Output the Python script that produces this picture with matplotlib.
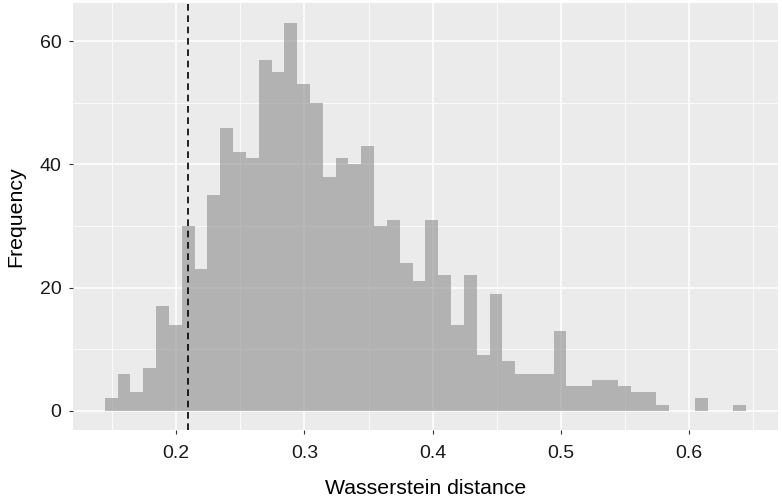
import matplotlib
matplotlib.use("Agg")
import matplotlib.pyplot as plt
from matplotlib.ticker import MultipleLocator
import numpy as np

plt.rcParams['font.family'] = ['Liberation Sans', 'DejaVu Sans']

# histogram: 50 bins of width 0.01
bin_start = 0.1443
bin_width = 0.01
counts = [2, 6, 3, 7, 17, 14, 30, 23, 35, 46,
          42, 41, 57, 55, 63, 53, 50, 38, 41, 40,
          43, 30, 31, 24, 21, 31, 22, 14, 22, 9,
          19, 8, 6, 6, 6, 13, 4, 4, 5, 5,
          4, 3, 3, 1, 0, 0, 2, 0, 0, 1]
observed = 0.209
x_ticks = [0.2, 0.3, 0.4, 0.5, 0.6]
y_ticks = [0, 20, 40, 60]

edges = bin_start + bin_width * np.arange(len(counts) + 1)

fig = plt.figure(figsize=(7.82, 4.99), dpi=100)
ax = fig.add_axes([0.093, 0.138, 0.902, 0.855])
ax.set_facecolor("#EBEBEB")
for s in ax.spines.values():
    s.set_visible(False)

ax.bar(edges[:-1], counts, width=bin_width, align="edge",
       color="#8C8C8C", alpha=0.6, linewidth=0, zorder=3)
ax.axvline(observed, color="black", linewidth=1.2, linestyle=(0, (4.0, 2.8)),
           zorder=4)

span = edges[-1] - edges[0]
ax.set_xlim(edges[0] - 0.05 * span, edges[-1] + 0.05 * span)
ymax = max(counts)
ax.set_ylim(-0.05 * ymax, 1.05 * ymax)

ax.set_xticks(x_ticks)
ax.set_xticklabels([str(v) for v in x_ticks])
ax.set_yticks(y_ticks)
ax.xaxis.set_minor_locator(MultipleLocator(0.05))
ax.yaxis.set_minor_locator(MultipleLocator(10))
ax.grid(which="major", color="white", linewidth=1.1, zorder=1)
ax.grid(which="minor", color="white", linewidth=0.55, zorder=1)
ax.set_axisbelow(True)

ax.tick_params(which="major", length=2.75, width=0.8, color="#333333",
               labelcolor="#1A1A1A", labelsize=14)
ax.tick_params(axis="x", pad=8)
ax.tick_params(axis="y", pad=5.5)
ax.tick_params(which="minor", length=0)

ax.set_xlabel("Wasserstein distance", fontsize=15.3, color="black", labelpad=12)
ax.set_ylabel("Frequency", fontsize=15.3, color="black", labelpad=10)

fig.savefig("out.png", dpi=100)
